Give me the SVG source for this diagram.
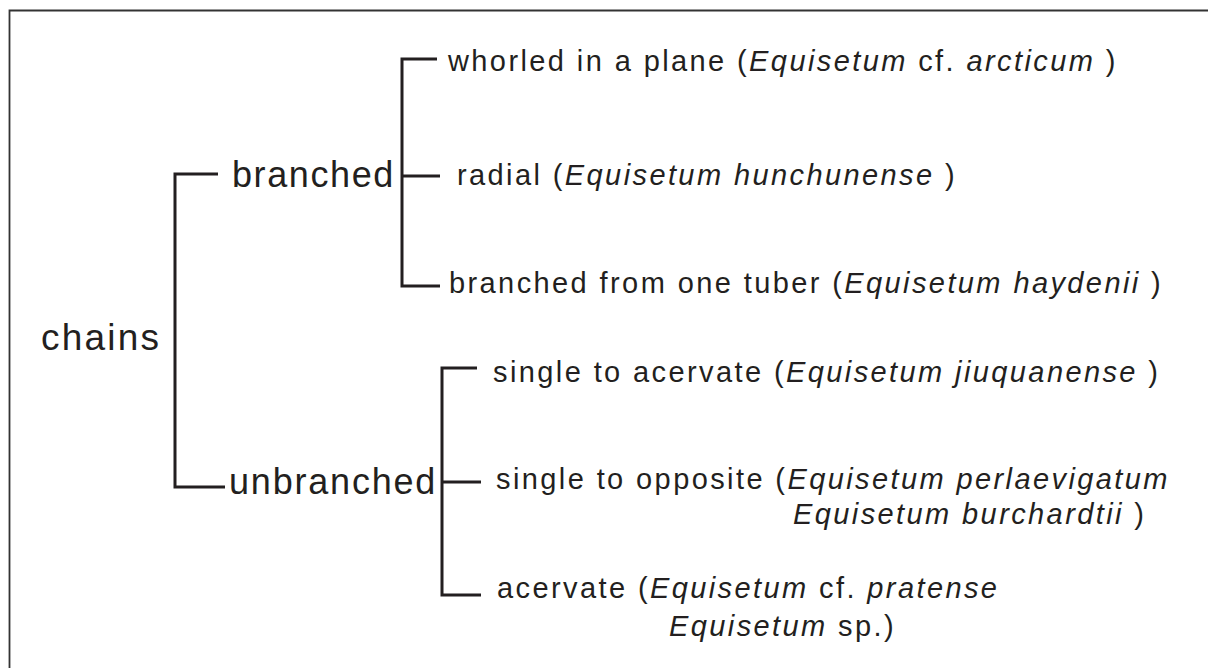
<svg xmlns="http://www.w3.org/2000/svg" width="1208" height="668" viewBox="0 0 1208 668">
<style>
.frame{fill:none;stroke:#333333;stroke-width:1.8}
.con{fill:none;stroke:#231f20;stroke-width:3;stroke-linecap:butt;stroke-linejoin:miter}
.main{font-family:"Liberation Sans",Arial,sans-serif;font-size:36px;fill:#231f20;letter-spacing:1.6px}
.sub{font-family:"Liberation Sans",Arial,sans-serif;font-size:29px;fill:#231f20;letter-spacing:2.4px}
.i{font-style:italic}
</style>
<rect width="1208" height="668" fill="#ffffff"/>
<path class="frame" d="M9.5,668 V10.5 H1208"/>
<g id="connectors">
<path class="con" d="M218,174 H175 V487 H225"/>
<path class="con" d="M437,59 H402 V286 H440 M402,176 H440"/>
<path class="con" d="M477,368 H442 V595 H481 M442,482 H481"/>
</g>
<g id="chains"><text class="main" x="41" y="350" style="font-size:37px;letter-spacing:2.2px">chains</text></g>
<g id="branched"><text class="main" x="232" y="187">branched</text></g>
<g id="unbranched"><text class="main" x="229" y="494" style="letter-spacing:1.8px">unbranched</text></g>
<g id="whorled"><text class="sub" x="448" y="71">whorled in a plane (<tspan class="i">Equisetum</tspan> cf. <tspan class="i">arcticum</tspan> )</text></g>
<g id="radial"><text class="sub" x="457" y="185">radial (<tspan class="i">Equisetum hunchunense</tspan> )</text></g>
<g id="tuber"><text class="sub" x="449" y="293">branched from one tuber (<tspan class="i">Equisetum haydenii</tspan> )</text></g>
<g id="acervate1"><text class="sub" x="493" y="382">single to acervate (<tspan class="i">Equisetum jiuquanense</tspan> )</text></g>
<g id="opposite"><text class="sub" x="496" y="489">single to opposite (<tspan class="i">Equisetum perlaevigatum</tspan></text>
<text class="sub" x="793" y="524"><tspan class="i">Equisetum burchardtii</tspan> )</text></g>
<g id="acervate2"><text class="sub" x="497" y="598">acervate (<tspan class="i">Equisetum</tspan> cf. <tspan class="i">pratense</tspan></text>
<text class="sub" x="669" y="636"><tspan class="i">Equisetum</tspan> sp.)</text></g>
</svg>
